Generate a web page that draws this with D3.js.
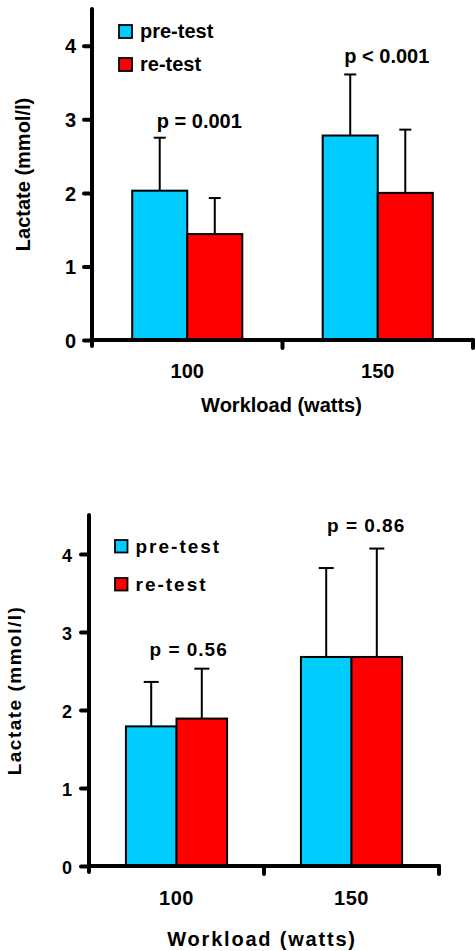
<!DOCTYPE html>
<html>
<head>
<meta charset="utf-8">
<script src="https://cdn.jsdelivr.net/npm/d3@7"></script>
<style>
  html, body { margin: 0; padding: 0; background: #fff; }
  svg { display: block; }
  text { font-family: "Liberation Sans", Arial, sans-serif; font-weight: bold; fill: #000; }
</style>
</head>
<body>
<svg id="chart" width="475" height="951"></svg>
<script>
// ---------------- data ----------------
const categories = ["100", "150"];
const seriesNames = ["pre-test", "re-test"];
const yTickValues = [0, 1, 2, 3, 4];
const xTitle = "Workload (watts)";
const yTitle = "Lactate (mmol/l)";

// upper panel
const topPre = [2.03, 2.78];
const topPreSD = [0.72, 0.83];
const topRe = [1.44, 2.00];
const topReSD = [0.49, 0.86];
const topP = ["p = 0.001", "p < 0.001"];

// lower panel
const botPre = [1.79, 2.68];
const botPreSD = [0.57, 1.14];
const botRe = [1.89, 2.68];
const botReSD = [0.64, 1.39];
const botP = ["p = 0.56", "p = 0.86"];

// ---------------- styling ----------------
const seriesColors = ["#00CCFF", "#FF0000"];
const svg = d3.select("#chart");

function drawPanel(p) {
  const g = svg.append("g");
  const x = d3.scaleBand().domain(categories).range([p.left, p.right]).paddingInner(0).paddingOuter(0);
  const xs = d3.scaleBand().domain(seriesNames).range([0, x.bandwidth()]).paddingOuter(0.73).paddingInner(0);
  const y = d3.scaleLinear().domain([0, 4.5]).range([p.bottom, p.top]);

  const means = [p.pre, p.re];
  const sds = [p.preSD, p.reSD];
  const rows = [];
  categories.forEach((c, i) => {
    seriesNames.forEach((s, j) => {
      rows.push({ c, s, j, v: means[j][i], e: means[j][i] + sds[j][i] });
    });
  });

  // error bars (upper only)
  const eb = g.append("g").attr("stroke", "#000").attr("stroke-width", 2);
  rows.forEach(d => {
    const cx = x(d.c) + xs(d.s) + xs.bandwidth() / 2;
    eb.append("line").attr("x1", cx).attr("x2", cx).attr("y1", y(d.v)).attr("y2", y(d.e));
    eb.append("line").attr("x1", cx - p.cap / 2).attr("x2", cx + p.cap / 2).attr("y1", y(d.e)).attr("y2", y(d.e));
  });

  // bars
  g.append("g").selectAll("rect").data(rows).join("rect")
    .attr("x", d => x(d.c) + xs(d.s))
    .attr("y", d => y(d.v))
    .attr("width", xs.bandwidth())
    .attr("height", d => y(0) - y(d.v))
    .attr("fill", d => seriesColors[d.j])
    .attr("stroke", "#000")
    .attr("stroke-width", 2);

  // y axis
  const ya = d3.axisLeft(y).tickValues(yTickValues).tickFormat(d3.format("d")).tickSize(8).tickSizeOuter(0).tickPadding(p.tickPad);
  const yg = g.append("g").attr("transform", `translate(${p.left},0)`).call(ya);
  yg.select(".domain").remove();
  yg.selectAll(".tick line").attr("stroke", "#000").attr("stroke-width", 4).attr("stroke-linecap", "round");
  yg.selectAll(".tick text").attr("font-size", p.yTickFont).attr("dy", p.yTickDy)
    .style("font-family", '"Liberation Sans", Arial, sans-serif').style("font-weight", "bold");
  g.append("line").attr("x1", p.left).attr("x2", p.left).attr("y1", y(4.5)).attr("y2", y(0) + 6)
    .attr("stroke", "#000").attr("stroke-width", 4).attr("stroke-linecap", "round");

  // x axis
  g.append("line").attr("x1", p.left).attr("x2", p.right).attr("y1", y(0)).attr("y2", y(0))
    .attr("stroke", "#000").attr("stroke-width", 4).attr("stroke-linecap", "round");
  categories.forEach(c => {
    const bx = x(c) + x.bandwidth();
    g.append("line").attr("x1", bx).attr("x2", bx).attr("y1", y(0)).attr("y2", y(0) + 8)
      .attr("stroke", "#000").attr("stroke-width", 4).attr("stroke-linecap", "round");
  });
  g.append("g").selectAll("text").data(categories).join("text")
    .attr("x", d => x(d) + x.bandwidth() / 2)
    .attr("y", p.xLabelY)
    .attr("text-anchor", "middle")
    .attr("font-size", p.xTickFont)
    .attr("letter-spacing", p.xTickLs)
    .text(d => d);

  // axis titles
  g.append("text").attr("x", (p.left + p.right) / 2 + p.xTitleDx).attr("y", p.xTitleY)
    .attr("text-anchor", "middle").attr("font-size", p.titleFont).attr("letter-spacing", p.titleLs).text(xTitle);
  g.append("text").attr("transform", `translate(${p.yTitleX},${(y(0) + y(4.5)) / 2}) rotate(-90)`)
    .attr("text-anchor", "middle").attr("font-size", p.yTitleFont).attr("letter-spacing", p.yTitleLs).text(yTitle);

  // p-value labels
  categories.forEach((c, i) => {
    const maxTop = Math.max(p.pre[i] + p.preSD[i], p.re[i] + p.reSD[i]);
    g.append("text")
      .attr("x", x(c) + x.bandwidth() / 2 + p.pDx[i])
      .attr("y", y(maxTop) - p.pGap[i])
      .attr("font-size", p.pFont)
      .attr("letter-spacing", p.pLs)
      .text(p.pLabels[i]);
  });

  // legend
  const lg = g.append("g");
  seriesNames.forEach((s, j) => {
    lg.append("rect").attr("x", p.legX).attr("y", p.legY[j]).attr("width", p.legSq).attr("height", p.legSq)
      .attr("fill", seriesColors[j]).attr("stroke", "#000").attr("stroke-width", 1.8);
    lg.append("text").attr("x", p.legX + p.legSq + p.legGap).attr("y", p.legY[j] + p.legSq)
      .attr("font-size", p.legFont).attr("letter-spacing", p.legLs).text(s);
  });
}

drawPanel({
  left: 92, right: 473, top: 9, bottom: 340,
  pre: topPre, preSD: topPreSD, re: topRe, reSD: topReSD, pLabels: topP,
  cap: 12, tickPad: 8, yTickFont: 20, yTickDy: "0.36em",
  xLabelY: 378, xTickFont: 20, xTickLs: 0,
  xTitleY: 412, xTitleDx: -1, titleFont: 20, titleLs: 0,
  yTitleX: 30, yTitleFont: 20, yTitleLs: 0,
  pDx: [-30.5, -33.5], pGap: [10, 11.5], pFont: 20, pLs: 0,
  legX: 119, legY: [25, 58], legSq: 13, legGap: 8, legFont: 20, legLs: 0
});

drawPanel({
  left: 89, right: 439, top: 515, bottom: 866,
  pre: botPre, preSD: botPreSD, re: botRe, reSD: botReSD, pLabels: botP,
  cap: 15, tickPad: 9, yTickFont: 18, yTickDy: "0.42em",
  xLabelY: 905, xTickFont: 20, xTickLs: 0.5,
  xTitleY: 946, xTitleDx: -2, titleFont: 20, titleLs: 1.8,
  yTitleX: 21, yTitleFont: 19, yTitleLs: 1.5,
  pDx: [-27, -24.5], pGap: [13, 17], pFont: 19, pLs: 1,
  legX: 115, legY: [540, 578], legSq: 12.5, legGap: 8, legFont: 19, legLs: 2
});
</script>
</body>
</html>
